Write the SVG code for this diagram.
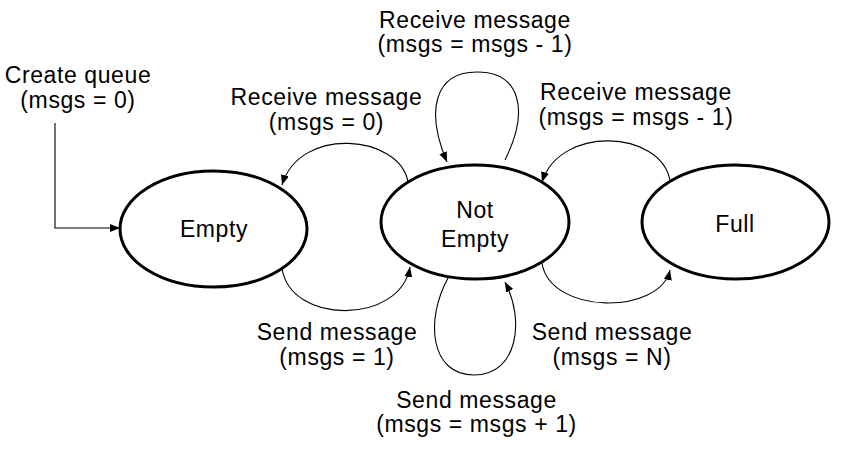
<svg xmlns="http://www.w3.org/2000/svg" width="855" height="455" viewBox="0 0 855 455">
<style>
.st{fill:#fff;stroke:#000;stroke-width:3}
.c{fill:none;stroke:#000;stroke-width:1.1}
text{font-family:"Liberation Sans",Arial,sans-serif;font-size:23px;fill:#000;text-anchor:middle;letter-spacing:0.6px}
</style>
<defs>
<marker id="ah" markerUnits="userSpaceOnUse" markerWidth="10" markerHeight="8" refX="10" refY="4" orient="auto">
<path d="M0,0 L10,4 L0,8 z" fill="#000"/>
</marker>
</defs>
<rect width="855" height="455" fill="#fff"/>
<g id="connectors">
<polyline class="c" points="55,123 55,228 120,228" marker-end="url(#ah)"/>
<path class="c" d="M408,182 C400,135 300,125 282,185" marker-end="url(#ah)"/>
<path class="c" d="M505,160 C530,110 520,72 477,72 C435,72 425,110 447,162" marker-end="url(#ah)"/>
<path class="c" d="M670,180 C660,130 560,125 542,182" marker-end="url(#ah)"/>
<path class="c" d="M542,263 C550,315 660,315 670,270" marker-end="url(#ah)"/>
<path class="c" d="M282,268 C290,325 400,325 410,267" marker-end="url(#ah)"/>
<path class="c" d="M448,278 C425,320 430,375 474,375 C518,375 525,320 505,282" marker-end="url(#ah)"/>
</g>
<g id="empty">
<ellipse class="st" cx="213.5" cy="229" rx="93.5" ry="58"/>
<text x="214" y="237">Empty</text>
</g>
<g id="not-empty">
<ellipse class="st" cx="475" cy="222" rx="94" ry="57"/>
<text x="475" y="218">Not</text>
<text x="475" y="247">Empty</text>
</g>
<g id="full">
<ellipse class="st" cx="735.5" cy="222" rx="93.5" ry="57"/>
<text x="735" y="232">Full</text>
</g>
<g id="labels">
<text x="78" y="83">Create queue</text>
<text x="78" y="108">(msgs = 0)</text>
<text x="475" y="27.5">Receive message</text>
<text x="475" y="52">(msgs = msgs - 1)</text>
<text x="326.5" y="105">Receive message</text>
<text x="326.5" y="130">(msgs = 0)</text>
<text x="636" y="100">Receive message</text>
<text x="636" y="125">(msgs = msgs - 1)</text>
<text x="337" y="340">Send message</text>
<text x="337" y="365">(msgs = 1)</text>
<text x="612" y="340">Send message</text>
<text x="612" y="365">(msgs = N)</text>
<text x="476.5" y="408">Send message</text>
<text x="476.5" y="432">(msgs = msgs + 1)</text>
</g>
</svg>
